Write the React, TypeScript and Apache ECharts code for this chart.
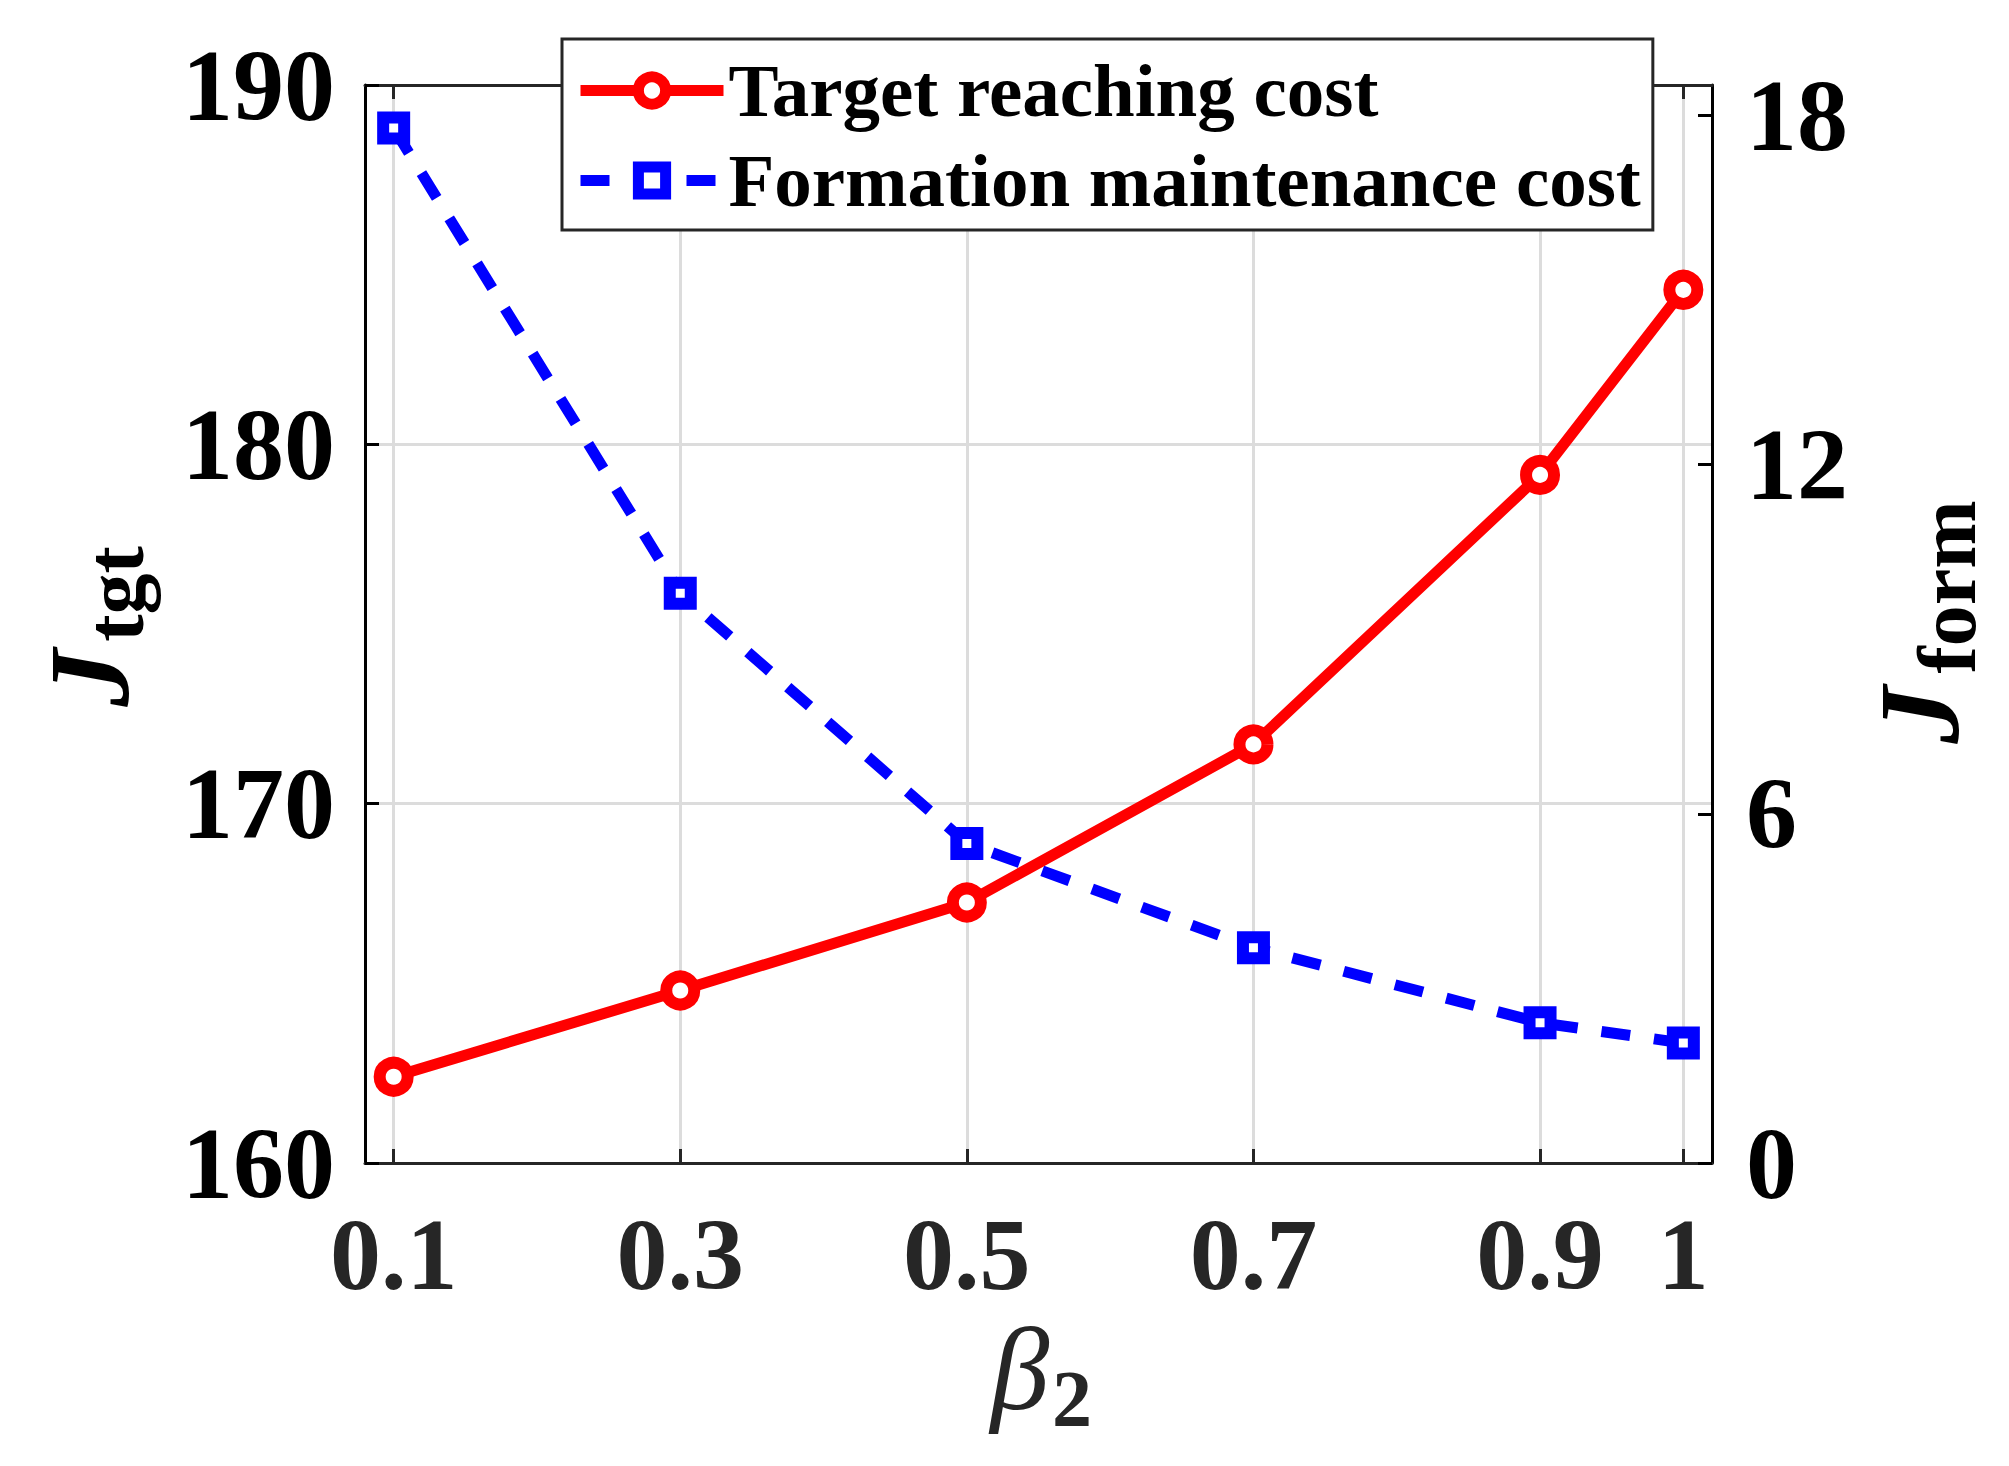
import React, { useEffect, useRef } from "react";
import * as echarts from "echarts";

const betaValues = [0.1, 0.3, 0.5, 0.7, 0.9, 1.0];
const targetReachingCost = [162.4, 164.8, 167.25, 171.65, 179.15, 184.3];
const formationMaintenanceCost = [17.78, 9.79, 5.49, 3.7, 2.41, 2.06];
const xTickValues = [0.1, 0.3, 0.5, 0.7, 0.9, 1];
const rightTickValues = [0, 6, 12, 18];
const seriesNames = ["Target reaching cost", "Formation maintenance cost"];

const FONT = '"Liberation Serif", "Times New Roman", serif';

export default function App() {
  const ref = useRef<HTMLDivElement>(null);
  useEffect(() => {
    document.body.style.margin = "0";
    const chart = echarts.init(ref.current!, null, { renderer: "svg" });
    const tickStyle = { show: true, inside: true, length: 14, lineStyle: { width: 3 } };
    const option: any = {
      animation: false,
      backgroundColor: "#ffffff",
      grid: { left: 365, top: 85, width: 1347, height: 1078, containLabel: false },
      legend: {
        data: seriesNames,
        orient: "vertical",
        left: 562,
        top: 39,
        padding: [14, 12, 12, 13],
        itemGap: 15,
        itemWidth: 143,
        itemHeight: 34,
        backgroundColor: "#ffffff",
        borderColor: "#262626",
        borderWidth: 3,
        borderRadius: 0,
        lineStyle: { width: 11 },
        itemStyle: { borderWidth: 11 },
        textStyle: {
          fontFamily: FONT,
          fontWeight: "bold",
          fontSize: 75,
          lineHeight: 75,
          color: "#000",
        },
      },
      xAxis: [
        {
          type: "value",
          min: 0.08,
          max: 1.02,
          position: "bottom",
          axisLine: { show: true, onZero: false, lineStyle: { color: "#262626", width: 3 } },
          axisTick: { ...tickStyle, customValues: xTickValues, lineStyle: { color: "#262626", width: 3 } },
          axisLabel: {
            customValues: xTickValues,
            formatter: (v: number) => String(Math.round(v * 10) / 10),
            fontFamily: FONT,
            fontWeight: "bold",
            fontSize: 102,
            color: "#262626",
            margin: 40,
          },
          splitLine: { show: true, lineStyle: { color: "#dcdcdc", width: 3 } },
        },
        {
          type: "value",
          min: 0.08,
          max: 1.02,
          position: "top",
          axisLine: { show: true, onZero: false, lineStyle: { color: "#262626", width: 3 } },
          axisTick: { ...tickStyle, customValues: xTickValues, lineStyle: { color: "#262626", width: 3 } },
          axisLabel: { show: false },
          splitLine: { show: false },
        },
      ],
      yAxis: [
        {
          type: "value",
          min: 160,
          max: 190,
          interval: 10,
          position: "left",
          axisLine: { show: true, lineStyle: { color: "#000", width: 3 } },
          axisTick: { ...tickStyle, lineStyle: { color: "#000", width: 3 } },
          axisLabel: {
            fontFamily: FONT,
            fontWeight: "bold",
            fontSize: 102,
            color: "#000",
            margin: 30,
          },
          splitLine: { show: true, lineStyle: { color: "#dcdcdc", width: 3 } },
        },
        {
          type: "value",
          min: 0,
          max: 18.52,
          position: "right",
          axisLine: { show: true, lineStyle: { color: "#000", width: 3 } },
          axisTick: { ...tickStyle, customValues: rightTickValues, lineStyle: { color: "#000", width: 3 } },
          axisLabel: {
            customValues: rightTickValues,
            fontFamily: FONT,
            fontWeight: "bold",
            fontSize: 102,
            color: "#000",
            margin: 34,
          },
          splitLine: { show: false },
        },
      ],
      series: [
        {
          name: seriesNames[1],
          type: "line",
          xAxisIndex: 0,
          yAxisIndex: 1,
          z: 2,
          data: betaValues.map((b, i) => [b, formationMaintenanceCost[i]]),
          symbol: "rect",
          symbolSize: 21,
          lineStyle: { color: "#0000ff", width: 11, type: [29, 24] },
          itemStyle: { color: "#ffffff", borderColor: "#0000ff", borderWidth: 12 },
        },
        {
          name: seriesNames[0],
          type: "line",
          xAxisIndex: 0,
          yAxisIndex: 0,
          z: 3,
          data: betaValues.map((b, i) => [b, targetReachingCost[i]]),
          symbol: "circle",
          symbolSize: 28,
          lineStyle: { color: "#ff0000", width: 11 },
          itemStyle: { color: "#ffffff", borderColor: "#ff0000", borderWidth: 12 },
        },
      ],
      graphic: [
        {
          type: "text",
          x: 89,
          y: 678,
          rotation: Math.PI / 2,
          style: {
            text: "J",
            fontFamily: FONT,
            fontWeight: "bold",
            fontStyle: "italic",
            fontSize: 115,
            fill: "#000",
            align: "center",
            verticalAlign: "middle",
          },
        },
        {
          type: "text",
          x: 115,
          y: 594,
          rotation: Math.PI / 2,
          style: {
            text: "tgt",
            fontFamily: FONT,
            fontWeight: "bold",
            fontSize: 82,
            fill: "#000",
            align: "center",
            verticalAlign: "middle",
          },
        },
        {
          type: "text",
          x: 1919,
          y: 715,
          rotation: Math.PI / 2,
          style: {
            text: "J",
            fontFamily: FONT,
            fontWeight: "bold",
            fontStyle: "italic",
            fontSize: 115,
            fill: "#000",
            align: "center",
            verticalAlign: "middle",
          },
        },
        {
          type: "text",
          x: 1947,
          y: 587,
          rotation: Math.PI / 2,
          style: {
            text: "form",
            fontFamily: FONT,
            fontWeight: "bold",
            fontSize: 82,
            fill: "#000",
            align: "center",
            verticalAlign: "middle",
          },
        },
        {
          type: "text",
          x: 1020,
          y: 1369,
          style: {
            text: "β",
            fontFamily: FONT,
            fontStyle: "italic",
            fontSize: 118,
            fill: "#262626",
            align: "center",
            verticalAlign: "middle",
          },
        },
        {
          type: "text",
          x: 1072,
          y: 1399,
          style: {
            text: "2",
            fontFamily: FONT,
            fontWeight: "bold",
            fontSize: 80,
            fill: "#262626",
            align: "center",
            verticalAlign: "middle",
          },
        },
      ],
    };
    chart.setOption(option);
    return () => chart.dispose();
  }, []);
  return <div ref={ref} style={{ width: 2009, height: 1466 }} />;
}
